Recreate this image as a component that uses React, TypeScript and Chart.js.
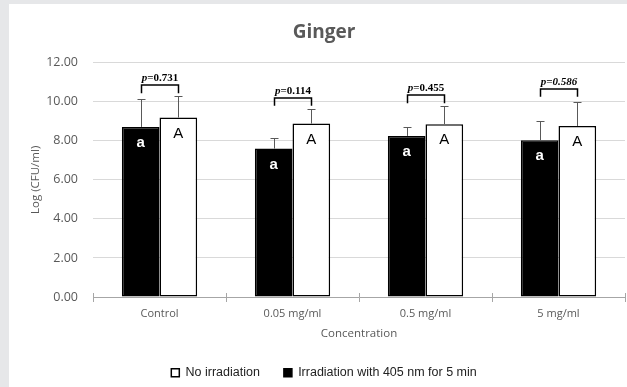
import React, { useEffect, useRef } from 'react';
import { Chart, registerables } from 'chart.js';

Chart.register(...registerables);

const categories = ['Control', '0.05 mg/ml', '0.5 mg/ml', '5 mg/ml'];
const irradiatedValues = [8.71, 7.6, 8.25, 8.03];
const irradiatedErrors = [1.45, 0.53, 0.46, 0.99];
const noIrradiationValues = [9.19, 8.88, 8.85, 8.76];
const noIrradiationErrors = [1.11, 0.74, 0.94, 1.23];
const irradiatedLetters = ['a', 'a', 'a', 'a'];
const noIrradiationLetters = ['A', 'A', 'A', 'A'];
const pValues = ['0.731', '0.114', '0.455', '0.586'];
const pAllItalic = [false, false, false, true];
const bracketLevels = [10.87, 10.21, 10.33, 10.67];
const bracketLegLevels = [10.43, 9.79, 9.92, 10.26];
const yMin = 0;
const yMax = 12;
const yStep = 2;

const TEXT = '#595959';

const annotationPlugin = {
  id: 'annotations',
  afterDatasetsDraw(chart: any) {
    const ctx = chart.ctx as CanvasRenderingContext2D;
    const ys = chart.scales.y;
    const xs = chart.scales.x;
    const m0 = chart.getDatasetMeta(0);
    const m1 = chart.getDatasetMeta(1);
    ctx.save();

    // upward part of the crossing tick marks on the category axis
    const axisY = xs.top;
    const n = categories.length;
    const w = (xs.right - xs.left) / n;
    ctx.strokeStyle = '#a6a6a6';
    ctx.lineWidth = 1;
    for (let i = 0; i <= n; i++) {
      const x = Math.round(xs.left + i * w) + 0.5;
      ctx.beginPath();
      ctx.moveTo(x, axisY - 4);
      ctx.lineTo(x, axisY);
      ctx.stroke();
    }

    // error bars (positive only) and letters
    const groups: [any, number[], number[], string[], string, string][] = [
      [m0, irradiatedValues, irradiatedErrors, irradiatedLetters, '#ffffff', 'bold '],
      [m1, noIrradiationValues, noIrradiationErrors, noIrradiationLetters, '#000000', ''],
    ];
    groups.forEach(([meta, vals, errs, letters, color, weight]) => {
      meta.data.forEach((bar: any, i: number) => {
        const x = Math.round(bar.x) + 0.5;
        const yTop = ys.getPixelForValue(vals[i]);
        const yErr = Math.round(ys.getPixelForValue(vals[i] + errs[i])) + 0.5;
        ctx.strokeStyle = '#595959';
        ctx.lineWidth = 1;
        ctx.beginPath();
        ctx.moveTo(x, yTop);
        ctx.lineTo(x, yErr);
        ctx.moveTo(x - 4, yErr);
        ctx.lineTo(x + 4, yErr);
        ctx.stroke();

        ctx.fillStyle = color;
        ctx.font = weight + '15px "Liberation Sans", Arial, sans-serif';
        ctx.textAlign = 'center';
        ctx.textBaseline = 'middle';
        ctx.fillText(letters[i], bar.x, yTop + 16);
      });
    });

    // brackets and p values
    m0.data.forEach((bar0: any, i: number) => {
      const bar1 = m1.data[i];
      const x0 = Math.round(bar0.x) + 0.5;
      const x1 = Math.round(bar1.x) + 0.5;
      const yb = Math.round(ys.getPixelForValue(bracketLevels[i]));
      const yl = ys.getPixelForValue(bracketLegLevels[i]);
      ctx.strokeStyle = '#000';
      ctx.lineWidth = 1.5;
      ctx.beginPath();
      ctx.moveTo(x0, yl);
      ctx.lineTo(x0, yb);
      ctx.lineTo(x1, yb);
      ctx.lineTo(x1, yl);
      ctx.stroke();

      const fontP = 'italic bold 11px "Liberation Serif", "Times New Roman", serif';
      const fontRest = (pAllItalic[i] ? 'italic ' : '') + 'bold 11px "Liberation Serif", "Times New Roman", serif';
      const rest = '=' + pValues[i];
      ctx.font = fontP;
      const wp = ctx.measureText('p').width;
      ctx.font = fontRest;
      const wr = ctx.measureText(rest).width;
      const cx = (x0 + x1) / 2;
      const start = cx - (wp + wr) / 2;
      ctx.fillStyle = '#000';
      ctx.textAlign = 'left';
      ctx.textBaseline = 'alphabetic';
      ctx.font = fontP;
      ctx.fillText('p', start, yb - 4);
      ctx.font = fontRest;
      ctx.fillText(rest, start + wp, yb - 4);
    });

    ctx.restore();
  },
};

export default function App() {
  const canvasRef = useRef<HTMLCanvasElement | null>(null);

  useEffect(() => {
    document.body.style.margin = '0';
    const canvas = canvasRef.current;
    if (!canvas) return;
    const chart = new Chart(canvas, {
      type: 'bar',
      data: {
        labels: categories,
        datasets: [
          {
            label: 'Irradiation with 405 nm for 5 min',
            data: irradiatedValues,
            backgroundColor: '#000000',
            borderColor: '#000000',
            borderWidth: 1.5,
            borderSkipped: false,
          },
          {
            label: 'No irradiation',
            data: noIrradiationValues,
            backgroundColor: '#ffffff',
            borderColor: '#000000',
            borderWidth: 1.5,
            borderSkipped: false,
          },
        ],
      },
      options: {
        responsive: false,
        animation: false,
        devicePixelRatio: 1,
        layout: { padding: { left: 14, right: 2, top: 0, bottom: -2 } },
        datasets: {
          bar: { categoryPercentage: 0.566, barPercentage: 1 },
        },
        plugins: {
          tooltip: { enabled: false },
          title: {
            display: true,
            text: 'Ginger',
            color: TEXT,
            font: { family: '"Open Sans", sans-serif', size: 19, weight: 'bold' },
            padding: { top: 17, bottom: 18.9 },
          },
          legend: {
            position: 'bottom',
            reverse: true,
            labels: {
              boxWidth: 8,
              boxHeight: 8,
              padding: 24,
              color: '#222222',
              font: { family: '"Liberation Sans", Arial, sans-serif', size: 12.5 },
            },
          },
        },
        scales: {
          x: {
            grid: {
              offset: true,
              drawOnChartArea: false,
              drawTicks: true,
              tickLength: 5,
              color: '#a6a6a6',
            },
            border: { display: true, color: '#a6a6a6', width: 1 },
            ticks: {
              color: TEXT,
              padding: 5,
              font: { family: '"Open Sans", sans-serif', size: 11 },
            },
            title: {
              display: true,
              text: 'Concentration',
              color: TEXT,
              font: { family: '"Open Sans", sans-serif', size: 11.5 },
              padding: { top: 1.5, bottom: 2 },
            },
          },
          y: {
            min: yMin,
            max: yMax,
            afterFit: (scale: any) => {
              scale.width = 70;
            },
            grid: { color: '#d9d9d9', drawTicks: false },
            border: { display: false },
            ticks: {
              stepSize: yStep,
              padding: 15,
              color: TEXT,
              font: { family: '"Open Sans", sans-serif', size: 12.5 },
              callback: (v: any) => Number(v).toFixed(2),
            },
            title: {
              display: true,
              text: 'Log (CFU/ml)',
              color: TEXT,
              font: { family: '"Open Sans", sans-serif', size: 11.5 },
              padding: { top: 6, bottom: 0 },
            },
          },
        },
      },
      plugins: [annotationPlugin],
    } as any);
    return () => chart.destroy();
  }, []);

  return (
    <div
      style={{
        position: 'fixed',
        left: 0,
        top: 0,
        width: 627,
        height: 387,
        background: '#e6e7e9',
        overflow: 'hidden',
      }}
    >
      <div
        style={{
          position: 'absolute',
          left: 9,
          top: 4,
          width: 618,
          height: 383,
          background: '#ffffff',
        }}
      >
        <canvas ref={canvasRef} width={618} height={383} style={{ display: 'block' }} />
      </div>
    </div>
  );
}
